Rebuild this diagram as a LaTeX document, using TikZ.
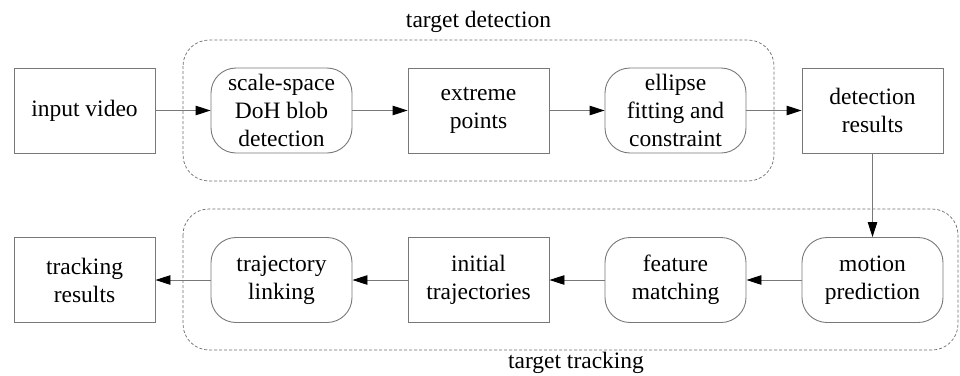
\documentclass[tikz,border=0pt]{standalone}
\usepackage{fontspec}
\setmainfont{Liberation Serif}
\usetikzlibrary{arrows.meta}
\definecolor{edgegray}{RGB}{120,120,120}
\definecolor{dashgray}{RGB}{110,110,110}
\tikzset{
  base/.style={draw=edgegray, line width=0.9pt, minimum width=141pt, minimum height=85pt,
    inner sep=0pt, align=center, font=\fontsize{23.5}{28}\selectfont},
  plainbox/.style={base},
  roundbox/.style={base, rounded corners=25pt},
  flow/.style={draw=edgegray, line width=0.9pt, -{Triangle[length=15pt,width=9.5pt,color=black]}},
  group/.style={draw=dashgray, line width=0.7pt, dash pattern=on 3pt off 2pt, rounded corners=26pt},
  grouplabel/.style={font=\fontsize{23.5}{28}\selectfont, inner sep=0pt, anchor=base}
}
\begin{document}
\begin{tikzpicture}[x=1pt,y=-1pt]
\useasboundingbox (0,0) rectangle (960,375);

% dashed group frames
\draw[group] (183,40) rectangle (774,181);
\draw[group] (183,209) rectangle (958,350);
\node[grouplabel] (lbldet) at (478.5,27) {target detection};
\node[grouplabel] (lbltrk) at (576,368.5) {target tracking};

% detection row
\node[plainbox] (input)   at (84.5,110.5)  {input video};
\node[roundbox] (blob)    at (281.5,110.5) {scale-space\\DoH blob\\detection};
\node[plainbox] (extreme) at (478.5,110.5) {extreme\\points};
\node[roundbox] (ellipse) at (675.5,110.5) {ellipse\\fitting and\\constraint};
\node[plainbox] (detres)  at (872.5,110.5) {detection\\results};

% tracking row
\node[plainbox] (trkres)  at (84.5,280)  {tracking\\results};
\node[roundbox] (link)    at (281.5,280) {trajectory\\linking};
\node[plainbox] (init)    at (478.5,280) {initial\\trajectories};
\node[roundbox] (feature) at (675.5,280) {feature\\matching};
\node[roundbox] (motion)  at (872.5,280) {motion\\prediction};

% connectors
\draw[flow] (input) -- (blob);
\draw[flow] (blob) -- (extreme);
\draw[flow] (extreme) -- (ellipse);
\draw[flow] (ellipse) -- (detres);
\draw[flow] (detres) -- (motion);
\draw[flow] (motion) -- (feature);
\draw[flow] (feature) -- (init);
\draw[flow] (init) -- (link);
\draw[flow] (link) -- (trkres);
\end{tikzpicture}
\end{document}
